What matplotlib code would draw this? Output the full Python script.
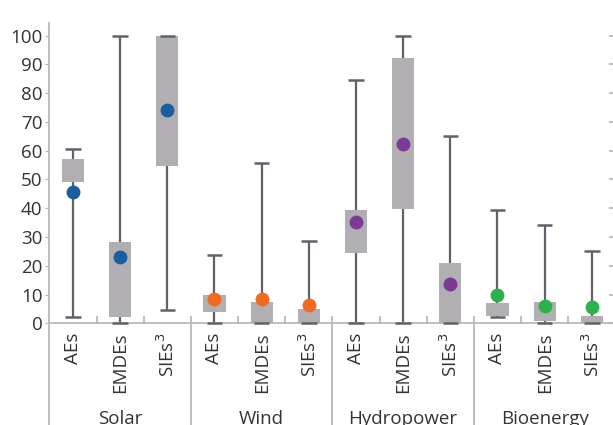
import numpy as np
import matplotlib
matplotlib.use("Agg")
import matplotlib.pyplot as plt
from matplotlib.transforms import blended_transform_factory

plt.rcParams["font.family"] = ["Open Sans", "DejaVu Sans"]

# Groups and sub-categories
GROUPS = ["Solar", "Wind", "Hydropower", "Bioenergy"]
SUBS = ["AEs", "EMDEs", "SIEs$^3$"]
GROUP_COLORS = ["#1a5e9f", "#f26a21", "#7b3a96", "#2bb24c"]

# Whisker range (min, max), box range (low, high) and the dot value, in order of
# Solar AEs/EMDEs/SIEs, Wind ..., Hydropower ..., Bioenergy ...
WHISK_LO = [2.2, 0, 4.5, 0, 0, 0, 0, 0, 0, 2.1, 0, 0]
WHISK_HI = [60.6, 100, 100, 23.9, 55.6, 28.7, 84.7, 100, 65.2, 39.3, 34.1, 25.1]
BOX_LO = [49.2, 2.3, 54.8, 4.0, 0, 0, 24.3, 39.7, 0, 2.5, 0.9, 0]
BOX_HI = [57.0, 28.2, 100, 9.8, 7.3, 5.0, 39.4, 92.1, 21.0, 7.1, 7.3, 2.5]
DOTS = [45.7, 23.0, 74.2, 8.6, 8.3, 6.5, 35.3, 62.3, 13.6, 9.8, 5.9, 5.6]

W, H = 613, 425
fig = plt.figure(figsize=(W / 100, H / 100), dpi=100)
ax = fig.add_axes([49.4 / W, (H - 323.3) / H, 566 / W, 300.6 / H])

whisk = "#5f6369"
boxc = "#b1afb1"
axc = "#b4b4b4"
txt = "#333333"
fs = 13.5

x = np.arange(len(DOTS))
for i in x:
	col = GROUP_COLORS[i // 3]
	ax.vlines(i, WHISK_LO[i], WHISK_HI[i], color=whisk, lw=1.6, zorder=2)
	ax.bar(i, BOX_HI[i] - BOX_LO[i], 0.47, bottom=BOX_LO[i], color=boxc, zorder=3)
	ax.hlines([WHISK_LO[i], WHISK_HI[i]], i - 0.165, i + 0.165, color=whisk, lw=1.8,
		zorder=4, clip_on=False)
	ax.plot(i, DOTS[i], "o", ms=10, color=col, mec="none", zorder=5, clip_on=False)

ax.set_xlim(-0.5, 11.5)
ax.set_ylim(0, 104.5)
ax.set_yticks(np.arange(0, 101, 10))
ax.tick_params(axis="y", length=3, color=axc, labelsize=fs, labelcolor=txt, pad=2)
ax.set_xticks([])
for s in ["top", "right"]:
	ax.spines[s].set_visible(False)
for s in ["left", "bottom"]:
	ax.spines[s].set_color(axc)
	ax.spines[s].set_linewidth(1.2)

trans = blended_transform_factory(ax.transData, ax.transAxes)
# small ticks between sub-categories and group separators
for b in np.arange(0.5, 11, 1):
	if (b + 0.5) % 3 == 0:
		ax.plot([b, b], [0.02, -0.36], color=axc, lw=1.2, transform=trans, clip_on=False)
	else:
		ax.plot([b, b], [0.02, 0], color=axc, lw=1.2, transform=trans, clip_on=False)
ax.plot([-0.5, -0.5], [0, -0.36], color=axc, lw=1.2, transform=trans, clip_on=False)

for i in x:
	ax.text(i, -0.03, SUBS[i % 3], rotation=90, ha="center", va="top",
		fontsize=fs, color=txt, transform=trans)
for g, name in enumerate(GROUPS):
	ax.text(g * 3 + 1, -0.32, name, ha="center", va="center",
		fontsize=fs, color=txt, transform=trans)

# tick marks of the neighbouring panel at the right edge
ax2 = fig.add_axes([1.0, (H - 323.3) / H, 0.01, 300.6 / H])
ax2.set_ylim(0, 104.5)
ax2.set_yticks(np.arange(0, 101, 10))
ax2.tick_params(axis="y", length=3, color=axc, labelleft=False, width=1.2)
ax2.set_xticks([])
for s in ax2.spines.values():
	s.set_visible(False)
ax2.patch.set_visible(False)

fig.savefig("out.png", dpi=100)
